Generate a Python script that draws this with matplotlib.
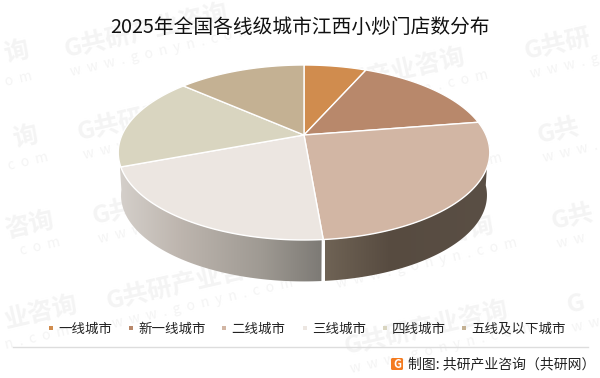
import numpy as np
import matplotlib
matplotlib.use('Agg')
import matplotlib.pyplot as plt
import matplotlib.patches as patches
from matplotlib.colors import LinearSegmentedColormap

plt.rcParams['font.family'] = ['Noto Sans CJK SC', 'DejaVu Sans']

title = '2025年全国各线级城市江西小炒门店数分布'
categories = ['一线城市', '新一线城市', '二线城市', '三线城市', '四线城市', '五线及以下城市']
shares = [6.6, 15.9, 26.15, 20.6, 17.25, 13.5]
colors = ['#D08C4E', '#B8886B', '#D2B6A4', '#ECE6E1', '#D9D5C0', '#C4B193']
legend_marker_x = [51, 131, 224, 305, 385, 464]

# watermarks, pixels: x, y, text. Pieces at the picture edges only keep what fits
wm_full = [(65, 50), (78, 133), (93, 217), (107, 302), (302, 94), (316, 177), (331, 262), (345, 347)]
wm_cut = [(4, 55, '询'), (13, 140, '询'), (5, 231, '咨询'), (5, 321, '业咨询'),
          (525, 52, 'G共研'), (538, 136, 'G共'), (552, 222, 'G共'), (567, 306, 'G')]
wm_url_cut = [(5, 82, 'o  m'), (8, 166, 'c  o  m'), (20, 251, 'c  o  m'), (5, 345, 'n  .  c  o  m'),
              (530, 74, 'w  w  w  .  g'), (543, 158, 'w  w  w  .'), (557, 244, 'w  w'), (572, 328, 'w  w')]

CX, CY = 304, 135   # apex of the pie
K = 0.2             # perspective of the tilted disc
A, B = 84, 182
DEPTH = 43
WM_COLOR = '#f4f4f4'


def project(theta, scale=1.0, dy=0.0):
    # theta clockwise from 12 o'clock, radians
    u, v = np.sin(theta), np.cos(theta)
    w = 1 + K * v
    return CX + scale * B * u / w, CY - scale * A * v / w + dy


def arc(t0, t1, scale=1.0, dy=0.0, n=80):
    t = np.linspace(t0, t1, n)
    x, y = project(t, scale, dy)
    return np.column_stack([x, y])


def wm_text(x, y, s, size, bold=True):
    ax.text(x, y, s, fontsize=size, weight='bold' if bold else 'normal', color=WM_COLOR, rotation=13,
            rotation_mode='anchor', ha='left', va='center', zorder=0)


fig = plt.figure(figsize=(6, 3.78), dpi=100, facecolor='white')
ax = fig.add_axes([0, 0, 1, 1])
ax.set_xlim(0, 600)
ax.set_ylim(378, 0)
ax.axis('off')

# Watermarks
for x, y in wm_full:
    wm_text(x, y, 'G共研产业咨询', 18)
    wm_text(x + 5, y + 22, 'w  w  w  .  g  o  n  y  n  .  c  o  m', 10, bold=False)
for x, y, s in wm_cut:
    wm_text(x, y, s, 18)
for x, y, s in wm_url_cut:
    wm_text(x, y, s, 10, bold=False)

edges = np.radians(np.cumsum([0] + shares) * 3.6)


def draw_side(t0, t1, stops, xmin, xmax):
    top = arc(t0, t1)
    bot = arc(t0, t1, 0.985, DEPTH)
    poly = patches.Polygon(np.vstack([top, bot[::-1]]), closed=True, facecolor='none', edgecolor='none')
    ax.add_patch(poly)
    cmap = LinearSegmentedColormap.from_list('side', stops)
    im = ax.imshow(np.linspace(0, 1, 256)[None, :], extent=[xmin, xmax, 300, 120], cmap=cmap,
                   aspect='auto', zorder=1)
    im.set_clip_path(poly)


# Sides, only the front part of the disc shows
draw_side(np.radians(95), edges[3] - 0.007,
          [(0, '#6F6355'), (0.4, '#574B40'), (1, '#5A4F45')], 325, 490)
draw_side(edges[3] + 0.007, np.radians(262),
          [(0, '#D4CFCA'), (0.3, '#BDB5AE'), (0.7, '#9F9A93'), (1, '#7D7A75')], 120, 322)
ax.set_xlim(0, 600)
ax.set_ylim(378, 0)

# Dark cut face beside the front boundary
px, py = project(edges[3])
ax.plot([CX + 2, px + 1], [CY + 8, py], color='#5A4F45', lw=0.9, zorder=2)

# Top faces
for i, c in enumerate(colors):
    pts = np.vstack([[CX, CY], arc(edges[i], edges[i + 1])])
    ax.add_patch(patches.Polygon(pts, closed=True, facecolor=c, edgecolor='white', lw=1.0,
                                 joinstyle='round', zorder=3))

ax.text(300, 27, title, fontsize=14.2, color='#111111', ha='center', va='center')

# Legend
for mx, name, c in zip(legend_marker_x, categories, colors):
    ax.add_patch(patches.Rectangle((mx - 2, 326), 4, 4, facecolor=c, edgecolor='none'))
    ax.text(mx + 7, 328.5, name, fontsize=9.7, color='#222222', ha='left', va='center')

ax.plot([13, 588], [347, 347], color='#dddddd', lw=1)

# Footer
ax.add_patch(patches.FancyBboxPatch((391, 358), 12, 12, boxstyle='round,pad=0,rounding_size=1.5',
                                    facecolor='#F47B20', edgecolor='none'))
ax.text(397, 364, 'G', fontsize=8, weight='bold', color='white', ha='center', va='center')
ax.text(408, 364.5, '制图: 共研产业咨询（共研网）', fontsize=10, color='#222222', ha='left', va='center')

fig.savefig('out.png', dpi=100)
